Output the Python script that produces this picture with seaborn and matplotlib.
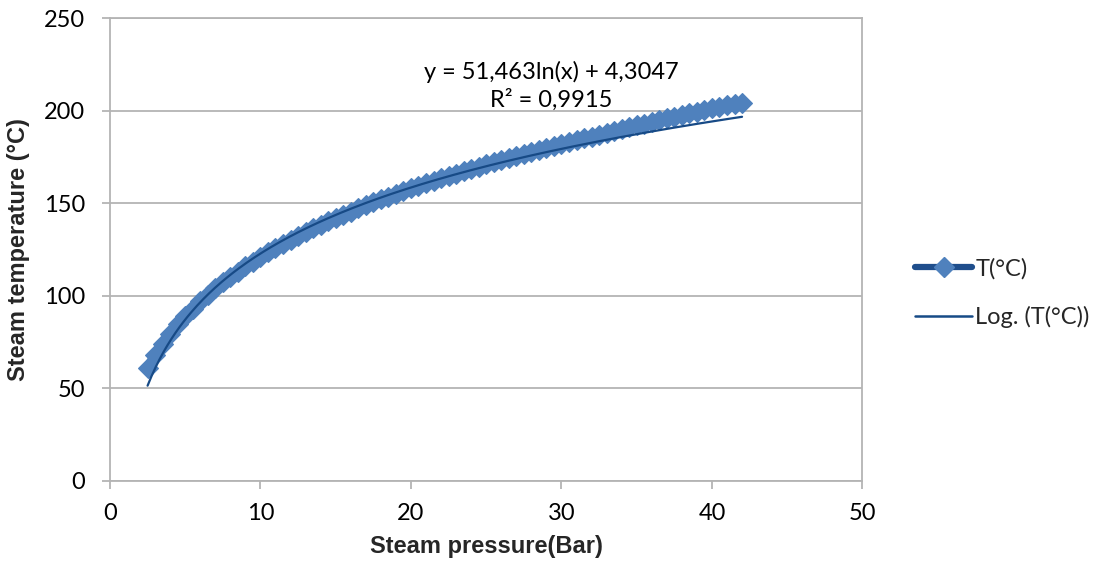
import numpy as np
import pandas as pd
import matplotlib
matplotlib.use("Agg")
import matplotlib.pyplot as plt
import seaborn as sns
from matplotlib.lines import Line2D

# ---- data ----
pressure_bar = [2.5, 3.0, 3.5, 4.0, 4.5, 5.0, 5.5, 6.0, 6.5, 7.0, 7.5, 8.0, 8.5, 9.0, 9.5,
                10.0, 10.5, 11.0, 11.5, 12.0, 12.5, 13.0, 13.5, 14.0, 14.5, 15.0, 15.5,
                16.0, 16.5, 17.0, 17.5, 18.0, 18.5, 19.0, 19.5, 20.0, 20.5, 21.0, 21.5,
                22.0, 22.5, 23.0, 23.5, 24.0, 24.5, 25.0, 25.5, 26.0, 26.5, 27.0, 27.5,
                28.0, 28.5, 29.0, 29.5, 30.0, 30.5, 31.0, 31.5, 32.0, 32.5, 33.0, 33.5,
                34.0, 34.5, 35.0, 35.5, 36.0, 36.5, 37.0, 37.5, 38.0, 38.5, 39.0, 39.5,
                40.0, 40.5, 41.0, 41.5, 42.0]
temperature_c = [61.0, 68.0, 74.1, 79.5, 84.5, 89.0, 93.1, 97.0, 100.6, 104.0, 107.2, 110.2,
                 113.1, 115.9, 118.5, 121.1, 123.5, 125.8, 128.1, 130.3, 132.4, 134.4, 136.4,
                 138.3, 140.2, 142.0, 143.8, 145.5, 147.2, 148.8, 150.4, 152.0, 153.5, 155.0,
                 156.5, 158.0, 159.4, 160.7, 162.1, 163.4, 164.7, 166.0, 167.3, 168.5, 169.7,
                 171.0, 172.1, 173.3, 174.4, 175.6, 176.7, 177.8, 178.9, 179.9, 181.0, 182.0,
                 183.0, 184.0, 185.0, 186.0, 187.0, 188.0, 189.0, 190.0, 191.0, 192.0, 193.0,
                 194.0, 194.9, 195.8, 196.7, 197.6, 198.5, 199.4, 200.3, 201.2, 202.0, 202.8,
                 203.6, 204.3]

# logarithmic trendline coefficients shown on the chart
trend_a = 51.463
trend_b = 4.3047
equation_text = "y = 51,463ln(x) + 4,3047\nR² = 0,9915"

series_label = "T(°C)"
trend_label = "Log. (T(°C))"
x_ticks = [0, 10, 20, 30, 40, 50]
y_ticks = [0, 50, 100, 150, 200, 250]

df = pd.DataFrame({"P": pressure_bar, "T": temperature_c})
trend_x = np.linspace(min(pressure_bar), max(pressure_bar), 300)
trend_df = pd.DataFrame({"P": trend_x, "T": trend_a * np.log(trend_x) + trend_b})

# ---- style ----
sns.set_style("white")
plt.rcParams["font.family"] = ["Lato", "DejaVu Sans"]

GRID = "#B4B4B4"
MARKER = "#4F81BD"
LINE = "#1F4E8C"
TREND = "#174A86"
FS = 17

fig = plt.figure(figsize=(11.05, 5.79), dpi=100)
ax = fig.add_axes([0.0995, 0.1693, 0.7805 - 0.0995, 0.9689 - 0.1693])

# series: connecting line is fully hidden under the dense diamond markers
sns.lineplot(data=df, x="P", y="T", ax=ax, sort=False, color=MARKER, linewidth=7,
             marker="D", markersize=10.5, markerfacecolor=MARKER, markeredgecolor=MARKER,
             markeredgewidth=0.8, zorder=3, legend=False)
sns.lineplot(data=trend_df, x="P", y="T", ax=ax, sort=False, color=TREND,
             linewidth=1.6, zorder=4, legend=False)

ax.set_xlim(0, 50)
ax.set_ylim(0, 250)
ax.set_xticks(x_ticks)
ax.set_yticks(y_ticks)
ax.yaxis.grid(True, color=GRID, linewidth=1.3)
ax.xaxis.grid(False)
ax.set_axisbelow(True)
for s in ["left", "bottom", "right", "top"]:
    ax.spines[s].set_visible(True)
    ax.spines[s].set_color(GRID)
    ax.spines[s].set_linewidth(1.3)
ax.tick_params(axis="both", which="major", direction="out", length=6, width=1.3,
               color=GRID, labelsize=FS, labelcolor="#000000")
ax.tick_params(axis="y", pad=12, left=True)
ax.tick_params(axis="x", pad=10, bottom=True)

ax.set_xlabel("Steam pressure(Bar)", fontsize=17, fontweight="bold",
              family="Liberation Sans", labelpad=8)
ax.set_ylabel("Steam temperature (°C)", fontsize=17, fontweight="bold",
              family="Liberation Sans", labelpad=10)

ax.text(29.3, 213.5, equation_text, ha="center", va="center", fontsize=FS,
        linespacing=1.3, color="#000000")

handles = [
    Line2D([0], [0], color=LINE, linewidth=4.5, marker="D", markersize=10,
           markerfacecolor=MARKER, markeredgecolor=MARKER),
    Line2D([0], [0], color=TREND, linewidth=1.8),
]
fig.legend(handles, [series_label, trend_label], loc="center left",
           bbox_to_anchor=(0.809, 0.494), frameon=False, fontsize=FS,
           handlelength=2.4, handletextpad=0.15, labelspacing=1.1)

fig.savefig("out.png", dpi=100)
